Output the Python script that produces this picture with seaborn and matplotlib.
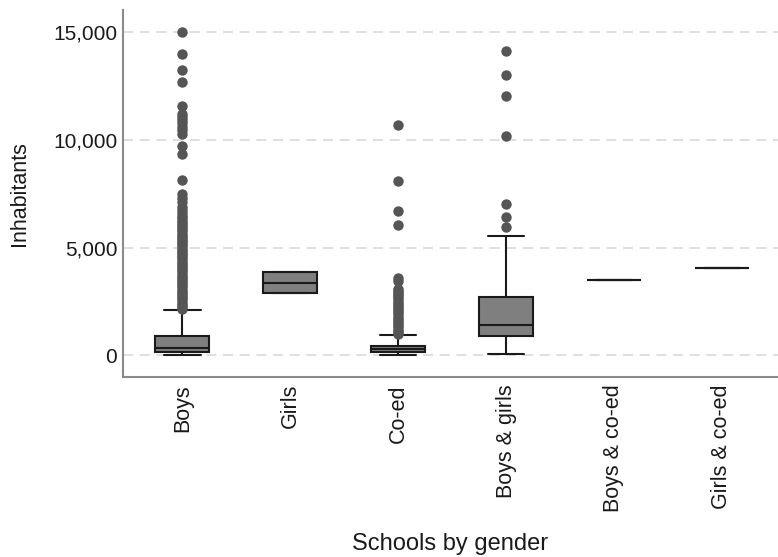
import numpy as np
import pandas as pd
import matplotlib
matplotlib.use("Agg")
import matplotlib.pyplot as plt
import seaborn as sns

# ---- data ----
categories = ["Boys", "Girls", "Co-ed", "Boys & girls", "Boys & co-ed", "Girls & co-ed"]
# five-number summaries: whisker low, Q1, median, Q3, whisker high
box_low    = [0,    2880, 0,    80,   3500, 4040]
box_q1     = [150,  2880, 150,  880,  3500, 4040]
box_median = [340,  3370, 280,  1435, 3500, 4040]
box_q3     = [925,  3860, 430,  2700, 3500, 4040]
box_high   = [2110, 3860, 955,  5540, 3500, 4040]

outliers_boys = [2150, 2250, 2350, 2450, 2550, 2650, 2750, 2850, 2950, 3050,
                 3150, 3250, 3350, 3450, 3550, 3650, 3750, 3850, 3950, 4050,
                 4150, 4250, 4350, 4450, 4550, 4650, 4750, 4850, 4950, 5050,
                 5150, 5250, 5350, 5450, 5550, 5650, 5750, 5850, 5950, 6050,
                 6150, 6250, 6350, 6450, 6600, 6750, 6900, 7100, 7300, 7500,
                 8130, 9330, 9720, 10280, 10450, 10600, 10750, 10900, 11050,
                 11200, 11570, 12650, 13200, 13950, 14970]
outliers_coed = [1000, 1100, 1200, 1300, 1400, 1500, 1600, 1700, 1800, 1900,
                 2000, 2100, 2200, 2300, 2400, 2500, 2600, 2700, 2800, 2900,
                 3000, 3090, 3450, 3580, 6050, 6710, 8100, 10690]
outliers_bg = [5970, 6400, 7020, 10150, 12040, 13000, 14120]

y_ticks = [0, 5000, 10000, 15000]
y_tick_labels = ["0", "5,000", "10,000", "15,000"]

# ---- tables ----
box_rows = []
for i, c in enumerate(categories):
    for v in (box_low[i], box_q1[i], box_median[i], box_q3[i], box_high[i]):
        box_rows.append({"group": c, "value": v})
box_df = pd.DataFrame(box_rows)

out_rows = ([{"group": "Boys", "value": v} for v in outliers_boys]
            + [{"group": "Co-ed", "value": v} for v in outliers_coed]
            + [{"group": "Boys & girls", "value": v} for v in outliers_bg])
out_df = pd.DataFrame(out_rows)

sns.set_theme(style="white")
plt.rcParams["font.family"] = ["Liberation Sans", "DejaVu Sans"]

fig = plt.figure(figsize=(7.78, 5.57), dpi=100)
ax = fig.add_axes([0.158, 0.323, 0.842, 0.659])

sns.boxplot(data=box_df, x="group", y="value", order=categories, ax=ax,
            whis=(0, 100), showfliers=False, width=0.5,
            color="#7f7f7f", saturation=1, linecolor="#1a1a1a", linewidth=1.5,
            capwidths=0.34, zorder=3)
sns.stripplot(data=out_df, x="group", y="value", order=categories, ax=ax,
              jitter=False, color="#555555", size=7.5, linewidth=0, zorder=4)

ax.set_ylim(-1000, 16000)
ax.set_xlim(-0.55, 5.52)
ax.set_yticks(y_ticks)
ax.set_yticklabels(y_tick_labels)
ax.yaxis.grid(True, linestyle=(0, (6, 4)), color="#d9d9d9", linewidth=1.2, zorder=0)
ax.xaxis.grid(False)
ax.set_axisbelow(True)

for s in ["top", "right"]:
    ax.spines[s].set_visible(False)
for s in ["left", "bottom"]:
    ax.spines[s].set_color("#8a8a8a")
    ax.spines[s].set_linewidth(1.5)

ax.tick_params(axis="y", labelsize=15, length=0, pad=4, colors="#1a1a1a")
ax.tick_params(axis="x", labelsize=15.5, length=0, pad=5, colors="#1a1a1a")
plt.setp(ax.get_xticklabels(), rotation=90)

ax.set_ylabel("Inhabitants", fontsize=15.5, labelpad=17, color="#1a1a1a")
ax.set_xlabel("Schools by gender", fontsize=17, labelpad=15, color="#1a1a1a")

fig.savefig("out.png", dpi=100)
